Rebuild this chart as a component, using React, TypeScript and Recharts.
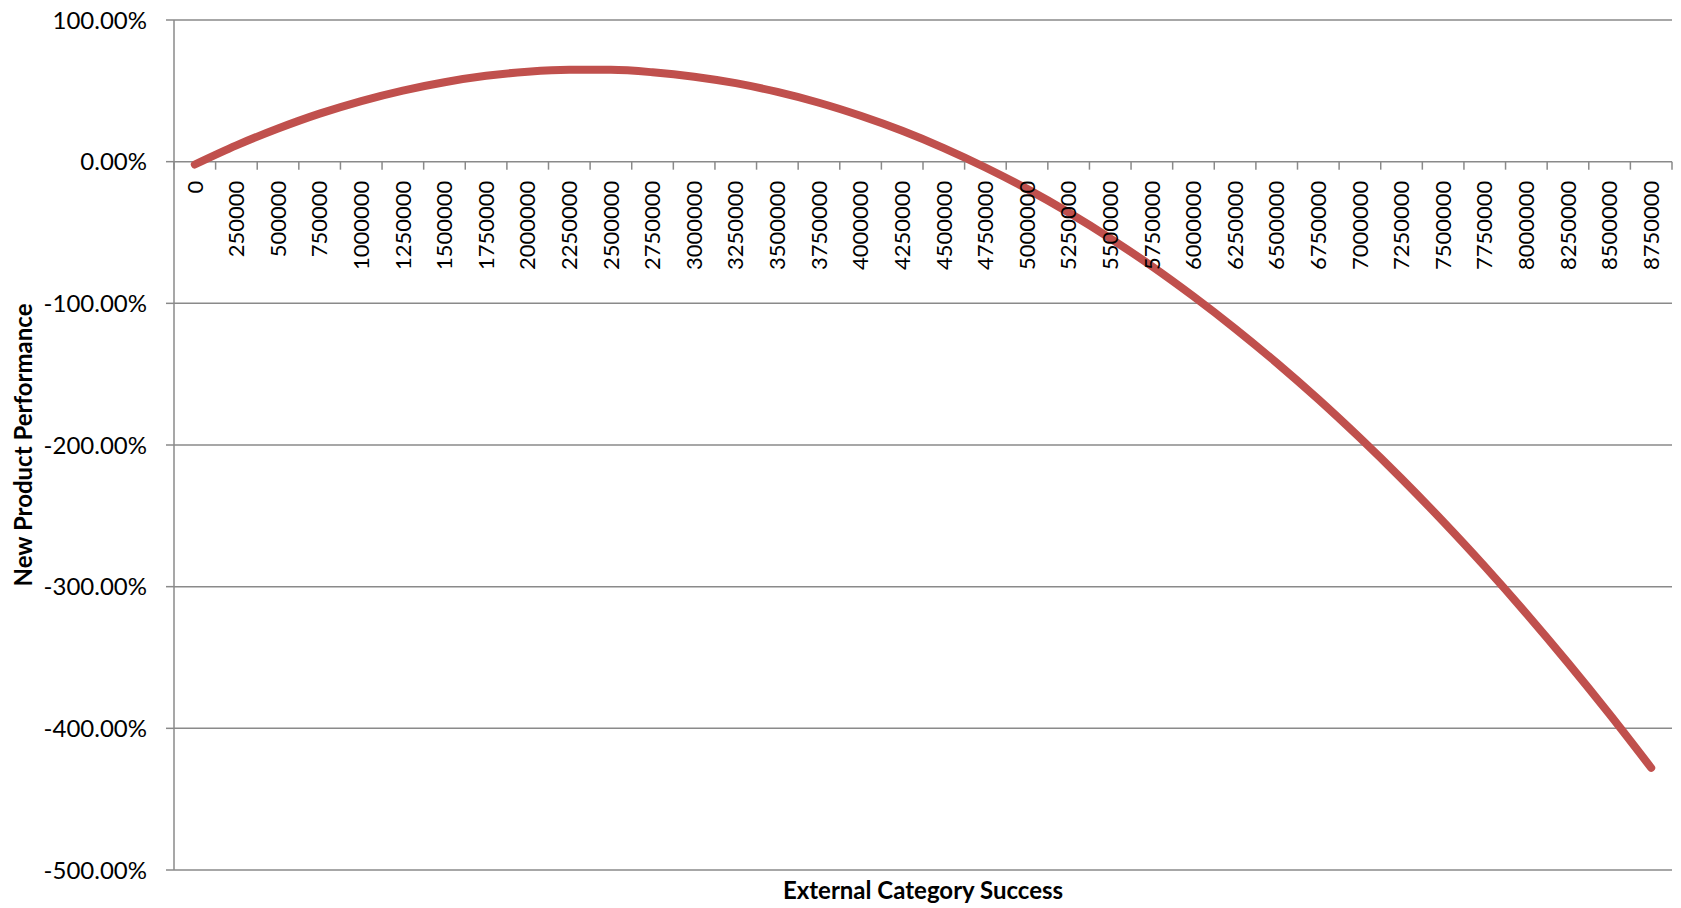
import React from 'react';
import { ComposedChart, Line, XAxis, YAxis, CartesianGrid, Label } from 'recharts';

// External category success levels (category axis)
const categories = [
  '0', '250000', '500000', '750000', '1000000', '1250000', '1500000', '1750000',
  '2000000', '2250000', '2500000', '2750000', '3000000', '3250000', '3500000',
  '3750000', '4000000', '4250000', '4500000', '4750000', '5000000', '5250000',
  '5500000', '5750000', '6000000', '6250000', '6500000', '6750000', '7000000',
  '7250000', '7500000', '7750000', '8000000', '8250000', '8500000', '8750000',
];

// New product performance, in percent
const performance = [
  -2.0, 11.5, 23.4, 33.9, 42.8, 50.2, 56.1, 60.6, 63.5, 64.9, 64.8, 63.1,
  60.0, 55.4, 49.2, 41.6, 32.4, 21.8, 9.6, -4.1, -19.2, -35.9, -54.1, -73.8,
  -95.1, -117.8, -142.0, -167.7, -195.0, -223.7, -254.0, -285.7, -319.0,
  -353.8, -390.1, -427.9,
];

const yTicks = [100, 0, -100, -200, -300, -400, -500];

const CHART_W = 1681;
const CHART_H = 908;
const MARGIN = { top: 20, right: 9, bottom: 0, left: 0 };
const Y_AXIS_W = 174;
const X_AXIS_H = 38;
const Y_MIN = -500;
const Y_MAX = 100;

const GRID = '#8a8a8a';
const LINE = '#C0504D';
const FONT = 'Lato, "Open Sans", sans-serif';

// The category axis sits on the 0% line rather than at the bottom of the plot
const plotH = CHART_H - MARGIN.top - MARGIN.bottom - X_AXIS_H;
const plotW = CHART_W - MARGIN.left - MARGIN.right - Y_AXIS_W;
const zeroY = MARGIN.top + (plotH * (Y_MAX - 0)) / (Y_MAX - Y_MIN);
const band = plotW / categories.length;

const rows = categories.map((cat, i) => ({ cat, perf: performance[i] }));

const CategoryTick = (props: any) => {
  const { x, payload, index } = props;
  const last = index === categories.length - 1;
  return (
    <g>
      <line x1={x - band / 2} x2={x - band / 2} y1={zeroY} y2={zeroY + 8} stroke={GRID} strokeWidth={1.5} />
      {last && (
        <line x1={x + band / 2} x2={x + band / 2} y1={zeroY} y2={zeroY + 8} stroke={GRID} strokeWidth={1.5} />
      )}
      <text
        transform={`translate(${x},${zeroY + 19}) rotate(-90)`}
        textAnchor="end"
        dy="0.35em"
        fontSize={22}
        fill="#000"
        fontFamily={FONT}
      >
        {payload.value}
      </text>
    </g>
  );
};

const XTitle = (p: any) => {
  const vb = p.viewBox;
  return (
    <text
      x={vb.x + vb.width / 2}
      y={vb.y + 29}
      textAnchor="middle"
      fontSize={24}
      fontWeight="bold"
      fill="#000"
      fontFamily={FONT}
    >
      External Category Success
    </text>
  );
};

const YTitle = (p: any) => {
  const vb = p.viewBox;
  const cy = vb.y + vb.height / 2;
  return (
    <text
      transform={`translate(24,${cy}) rotate(-90)`}
      textAnchor="middle"
      dy="0.35em"
      fontSize={24}
      fontWeight="bold"
      fill="#000"
      fontFamily={FONT}
    >
      New Product Performance
    </text>
  );
};

export default function App() {
  return (
    <div style={{ position: 'absolute', left: 0, top: 0, background: '#fff', fontFamily: FONT }}>
      <ComposedChart width={CHART_W} height={CHART_H} data={rows} margin={MARGIN}>
        <CartesianGrid vertical={false} stroke={GRID} strokeWidth={1.5} />
        <XAxis
          dataKey="cat"
          scale="band"
          interval={0}
          axisLine={false}
          tickLine={false}
          height={X_AXIS_H}
          tick={<CategoryTick />}
        >
          <Label content={<XTitle />} />
        </XAxis>
        <YAxis
          type="number"
          domain={[Y_MIN, Y_MAX]}
          ticks={yTicks}
          interval={0}
          width={Y_AXIS_W}
          axisLine={{ stroke: GRID, strokeWidth: 1.5 }}
          tickLine={{ stroke: GRID, strokeWidth: 1.5 }}
          tickSize={8}
          tickMargin={19}
          tick={{ fill: '#000', fontSize: 24, fontFamily: FONT }}
          tickFormatter={(v: number) => `${v.toFixed(2)}%`}
        >
          <Label content={<YTitle />} />
        </YAxis>
        <Line
          type="monotone"
          dataKey="perf"
          stroke={LINE}
          strokeWidth={8}
          strokeLinecap="round"
          dot={false}
          activeDot={false}
          isAnimationActive={false}
        />
      </ComposedChart>
    </div>
  );
}
